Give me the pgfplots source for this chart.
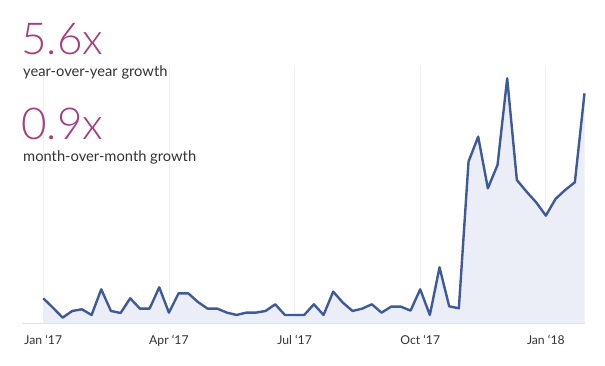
\documentclass[border=0pt]{standalone}
\usepackage{pgfplots}
\usepackage{pgfplotstable}
\pgfplotsset{compat=1.18}
\usepackage{fontspec}
\setmainfont{Lato}
\newfontfamily\lightfont{Lato Light}
\definecolor{mag}{HTML}{A63F7E}
\definecolor{lineblue}{HTML}{3F5A98}
\definecolor{fillc}{HTML}{EBEEF6}
\definecolor{txt}{HTML}{333333}
\pgfplotstableread{
x y
0 75
1 47
2 17
3 37
4 42
5 25
6 102
7 37
8 31
9 75
10 44
11 44
12 108
13 32
14 90
15 90
16 64
17 44
18 44
19 32
20 25
21 32
22 32
23 37
24 57
25 25
26 25
27 25
28 57
29 25
30 95
31 62
32 37
33 44
34 57
35 32
36 50
37 50
38 38
39 102
40 25
41 168
42 51
43 45
44 485
45 560
46 405
47 475
48 735
49 430
50 395
51 363
52 323
53 373
54 400
55 423
56 690
}\datatable
\begin{document}
\begin{tikzpicture}[x=1pt,y=1pt]
\useasboundingbox[fill=white] (0,0) rectangle (605,366);
\begin{axis}[
  at={(22pt,42.7pt)}, anchor=south west,
  scale only axis, width=562.5pt, height=258.3pt,
  xmin=-2.2, xmax=56, ymin=0, ymax=775,
  axis x line*=bottom, axis y line=none,
  x axis line style={draw=black!12, line width=0.8pt, -},
  xtick={0,13,26,39,52},
  xticklabels={Jan ‘17, Apr ‘17, Jul ‘17, Oct ‘17, Jan ‘18},
  major tick length=0pt,
  xmajorgrids, grid style={draw=black!6, line width=0.8pt},
  xticklabel style={anchor=base, yshift=-21.7pt, font=\fontsize{12.2}{14}\selectfont, text=txt},
  ytick=\empty,
  clip=false,
]
\addplot[fill=fillc, draw=none] table[x=x,y=y] {\datatable} \closedcycle;
\addplot[lineblue, line width=2.4pt, line join=round, no markers] table[x=x,y=y] {\datatable};
\end{axis}
\node[anchor=base west, inner sep=0, text=mag, font=\lightfont\fontsize{44}{50}\selectfont] at (21,311) {5.6x};
\node[anchor=base west, inner sep=0, text=txt, font=\fontsize{14.7}{16}\selectfont] at (23,289) {year-over-year growth};
\node[anchor=base west, inner sep=0, text=mag, font=\lightfont\fontsize{44}{50}\selectfont] at (21,226) {0.9x};
\node[anchor=base west, inner sep=0, text=txt, font=\fontsize{14.7}{16}\selectfont] at (23,204) {month-over-month growth};
\end{tikzpicture}
\end{document}
